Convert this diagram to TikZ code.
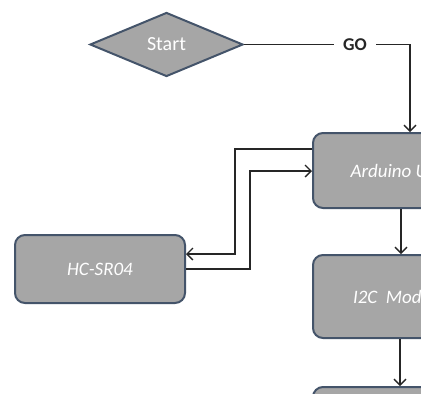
\documentclass[tikz,border=0pt]{standalone}
\usepackage{fontspec}
\setmainfont{Carlito}
\usetikzlibrary{shapes.geometric,arrows.meta}
\definecolor{boxfill}{HTML}{A6A6A6}
\definecolor{boxline}{HTML}{44546A}
\definecolor{conn}{HTML}{262626}
\tikzset{
  blk/.style={draw=boxline, line width=2pt, fill=boxfill, rounded corners=10pt,
    text=white, font=\fontsize{19}{22}\selectfont\itshape, inner sep=0pt},
  startshape/.style={diamond, draw=boxline, line width=2pt, fill=boxfill,
    aspect=2.39, inner sep=0pt, minimum width=153pt, minimum height=64pt,
    text=white, font=\fontsize{20}{23}\selectfont},
  conline/.style={draw=conn, line width=1.3pt},
  arr/.style={conline, -{Straight Barb[length=6pt,width=12pt,line width=1.3pt]}},
  golabel/.style={font=\fontsize{18}{21}\selectfont\bfseries, text=conn, inner xsep=9pt, inner ysep=1pt}
}
\begin{document}
\begin{tikzpicture}[x=1pt,y=-1pt]
\useasboundingbox (0,0) rectangle (421,394);
\clip (0,0) rectangle (421,394);
\fill[white] (0,0) rectangle (421,394);
\node[startshape] (start) at (166.5,44.5) {Start};
\node[golabel] (go) at (355,44.5) {GO};
\node[blk, minimum width=172pt, minimum height=75pt] (ard) at (399,170.5) {Arduino Uno};
\node[blk, minimum width=170pt, minimum height=68pt] (hc) at (100,269) {HC-SR04};
\node[blk, minimum width=172pt, minimum height=83pt] (i2c) at (399,296.5) {I2C\ \ Module};
\node[blk, minimum width=172pt, minimum height=75pt] (nxt) at (399,424.5) {};
\coordinate (goturn) at (410,44.5);
\coordinate (a1) at (235,149);
\coordinate (h1) at (185,254);
\coordinate (a2) at (250,171);
\draw[conline] (start.east) -- (go.west);
\draw[arr] (go.east) -- (goturn) -- (goturn |- ard.north);
\draw[arr] (a1 -| ard.west) -- (a1) |- (h1 -| hc.east);
\draw[arr] (hc.east) -| (a2) -- (a2 -| ard.west);
\draw[arr] (ard.south -| 401,0) -- (i2c.north -| 401,0);
\draw[arr] (i2c.south -| 400,0) -- (nxt.north -| 400,0);
\end{tikzpicture}
\end{document}
